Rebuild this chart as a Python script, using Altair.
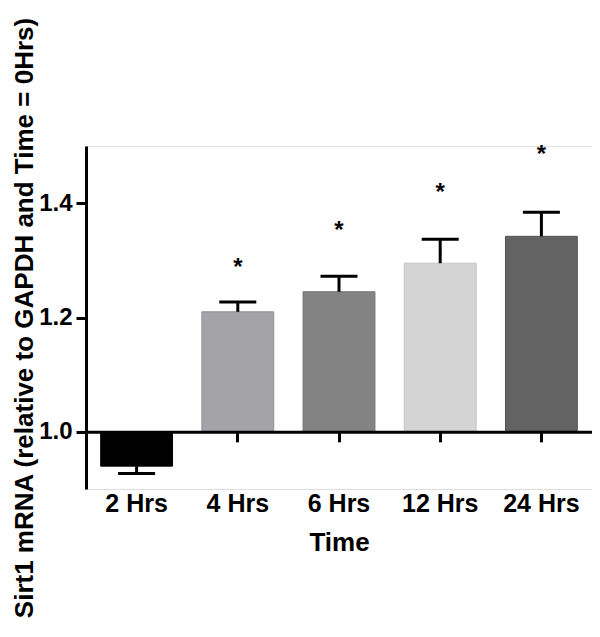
import altair as alt
import pandas as pd

times = ["2 Hrs", "4 Hrs", "6 Hrs", "12 Hrs", "24 Hrs"]
means = [0.940, 1.210, 1.245, 1.295, 1.342]
err_end = [0.927, 1.227, 1.272, 1.337, 1.384]
star_y = [None, 1.292, 1.357, 1.423, 1.489]
fills = ["#000000", "#a3a3a8", "#838383", "#d4d4d4", "#636363"]
strokes = ["#000000", "#909095", "#737373", "#c4c4c4", "#555555"]

df = pd.DataFrame({"time": times, "mean": means, "err": err_end, "base": [1.0] * 5})
stars = pd.DataFrame({"time": times[1:], "y": star_y[1:], "label": ["*"] * 4})

FONT = "Liberation Sans"
H = 343
W = 506
offset_x = -H * (1.0 - 0.9) / 0.6

xenc = alt.X(
    "time:N",
    sort=times,
    scale=alt.Scale(paddingInner=0.29, paddingOuter=0.145),
    axis=alt.Axis(
        title="Time",
        labelAngle=0,
        labelFont=FONT,
        labelFontSize=25,
        labelFontWeight="bold",
        labelColor="black",
        labelPadding=50,
        titleFont=FONT,
        titleFontSize=26,
        titleFontWeight="bold",
        titleColor="black",
        titlePadding=13,
        domainColor="black",
        domainWidth=3,
        tickColor="black",
        tickWidth=3,
        tickSize=10,
        offset=offset_x,
        zindex=1,
    ),
)

yscale = alt.Scale(domain=[0.9, 1.5], nice=False, zero=False)

bars = alt.Chart(df).mark_bar(strokeWidth=1).encode(
    x=xenc,
    y=alt.Y(
        "mean:Q",
        scale=yscale,
        axis=alt.Axis(
            title="Sirt1 mRNA (relative to GAPDH and Time = 0Hrs)",
            values=[1.0, 1.2, 1.4],
            format=".1f",
            grid=False,
            labelFont=FONT,
            labelFontSize=24,
            labelFontWeight="bold",
            labelColor="black",
            labelPadding=4,
            titleFont=FONT,
            titleFontSize=26,
            titleFontWeight="bold",
            titleColor="black",
            titlePadding=1,
            domainColor="black",
            domainWidth=3,
            tickColor="black",
            tickWidth=3,
            tickSize=10,
        ),
    ),
    y2="base:Q",
    color=alt.Color("time:N", scale=alt.Scale(domain=times, range=fills), legend=None),
    stroke=alt.Stroke("time:N", scale=alt.Scale(domain=times, range=strokes), legend=None),
)

err_rule = alt.Chart(df).mark_rule(color="black", strokeWidth=3).encode(
    x=alt.X("time:N", sort=times),
    y=alt.Y("mean:Q", scale=yscale),
    y2="err:Q",
)

caps = alt.Chart(df).mark_tick(color="black", size=37, thickness=3, opacity=1).encode(
    x=alt.X("time:N", sort=times),
    y=alt.Y("err:Q", scale=yscale),
)

star_marks = alt.Chart(stars).mark_text(
    font=FONT, fontSize=24, fontWeight="bold", color="black", baseline="alphabetic", dy=10
).encode(
    x=alt.X("time:N", sort=times),
    y=alt.Y("y:Q", scale=yscale),
    text="label:N",
)

chart = (
    alt.layer(bars, err_rule, caps, star_marks)
    .properties(
        width=W,
        height=H,
        autosize=alt.AutoSizeParams(type="none"),
        padding={"left": 78, "top": 138, "right": 0, "bottom": 136},
    )
    .configure_view(stroke=None)
    .configure(background="white")
)

chart.save("out.html", embed_options={"renderer": "svg", "actions": False})
